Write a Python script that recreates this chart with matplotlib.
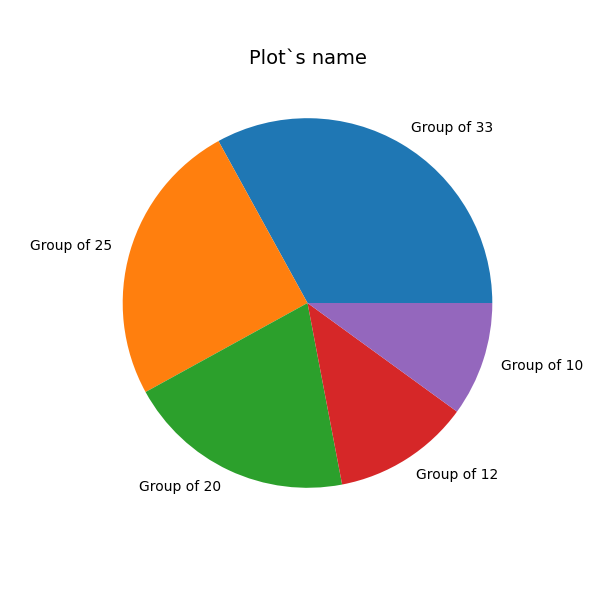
import matplotlib
matplotlib.use("Agg")
import matplotlib.pyplot as plt

sizes = [33, 25, 20, 12, 10]
labels = ["Group of 33", "Group of 25", "Group of 20", "Group of 12", "Group of 10"]

fig, ax = plt.subplots(figsize=(6, 6), dpi=100)
ax.pie(sizes, labels=labels)
ax.set_title("Plot`s name", fontsize=14)
plt.savefig("out.png")
